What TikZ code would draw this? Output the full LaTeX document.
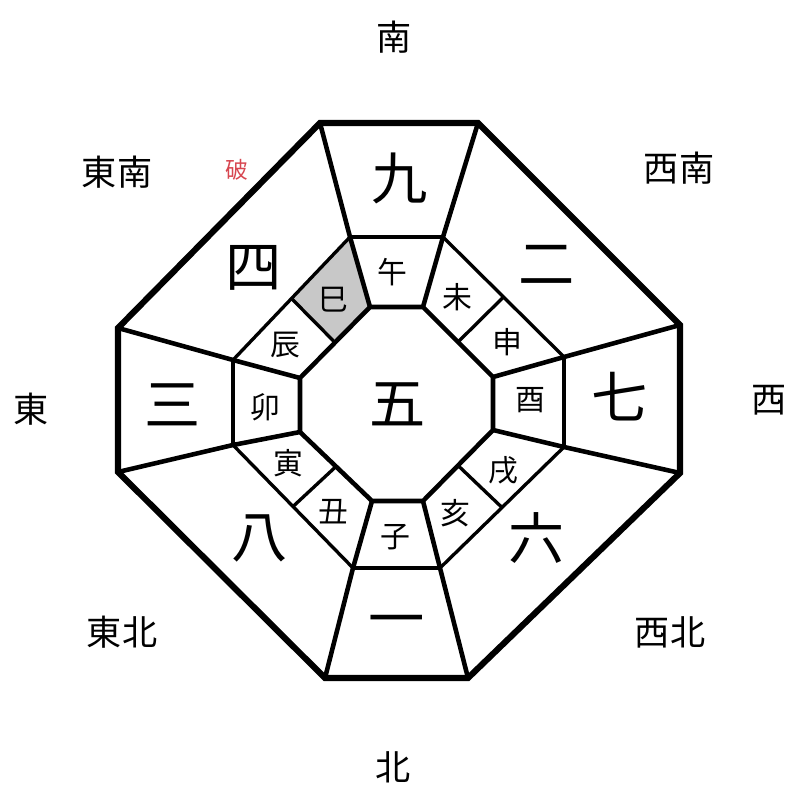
\documentclass[tikz,border=0pt]{standalone}
\usepackage{fontspec}
\newfontfamily\jpfont{Noto Sans CJK JP}
\usepackage{tikz}
\usetikzlibrary{calc, positioning}
\definecolor{shadegray}{RGB}{200,200,200}
\definecolor{hared}{RGB}{215,70,80}
\tikzset{
	rim/.style={line width=3.5pt},
	wall/.style={line width=2.6pt},
	seam/.style={line width=1.9pt},
	bignum/.style={font=\jpfont\fontsize{32}{32}\selectfont},
	branch/.style={font=\jpfont\fontsize{17}{17}\selectfont},
	dirlabel/.style={font=\jpfont\fontsize{20}{20}\selectfont},
}

\begin{document}
\begin{tikzpicture}[x=0.02cm, y=-0.02cm]
			\useasboundingbox (0,0) rectangle (800,800);
			% inner octagon
			\coordinate (i1) at (370,307); \coordinate (i2) at (423,307);
			\coordinate (i3) at (493,377); \coordinate (i4) at (493,430);
			\coordinate (i5) at (423,501); \coordinate (i6) at (372,501);
			\coordinate (i7) at (300,432); \coordinate (i8) at (300,378);
			% middle ring
			\coordinate (m1) at (350,237); \coordinate (m2) at (443,237);
			\coordinate (m3) at (564,357); \coordinate (m4) at (564,447);
			\coordinate (m5) at (440,568); \coordinate (m6) at (353,568);
			\coordinate (m7) at (233,445); \coordinate (m8) at (233,360);
			% outer octagon
			\coordinate (o1) at (320,123); \coordinate (o2) at (478,123);
			\coordinate (o3) at (680,325); \coordinate (o4) at (680,473);
			\coordinate (o5) at (468,678); \coordinate (o6) at (325,678);
			\coordinate (o7) at (118,472); \coordinate (o8) at (118,328);
			% shaded cell
			\fill[shadegray] (i1) -- (m1) -- ($(m8)!0.5!(m1)$) -- ($(i8)!0.5!(i1)$) -- cycle;
			% lines
			\foreach \k in {1,...,8} {
				\draw[wall] (o\k) -- (m\k) -- (i\k);
			}
			\draw[wall] (i1) -- (i2) -- (i3) -- (i4) -- (i5) -- (i6) -- (i7) -- (i8) -- cycle;
			\draw[wall] (m1) -- (m2) (m3) -- (m4) (m5) -- (m6) (m7) -- (m8);
			\draw[seam] (m2) -- (m3) (m4) -- (m5) (m6) -- (m7) (m8) -- (m1);
			\foreach \a/\b in {2/3, 4/5, 6/7, 8/1} {
				\draw[seam] ($(i\a)!0.5!(i\b)$) -- ($(m\a)!0.5!(m\b)$);
			}
			\draw[rim] (o1) -- (o2) -- (o3) -- (o4) -- (o5) -- (o6) -- (o7) -- (o8) -- cycle;
			% numbers
			\node[bignum] (n5) at (398,404) {五};
			\node[bignum] (n9) at (400,178) {九};
			\node[bignum] (n2) at (547,265) {二};
			\node[bignum] (n7) at (620,397) {七};
			\node[bignum] (n6) at (537,538) {六};
			\node[bignum] (n1) at (397,627) {一};
			\node[bignum] (n8) at (260,538) {八};
			\node[bignum] (n3) at (173,405) {三};
			\node[bignum] (n4) at (254,268) {四};
			% branches
			\node[branch] (uma) at (392,272) {午};
			\node[branch] (hitsuji) at (457,297) {未};
			\node[branch] (saru) at (507,342) {申};
			\node[branch] (tori) at (530,400) {酉};
			\node[branch] (inu) at (503,470) {戌};
			\node[branch] (i) at (455,513) {亥};
			\node[branch] (ne) at (395,537) {子};
			\node[branch] (ushi) at (333,512) {丑};
			\node[branch] (tora) at (288,463) {寅};
			\node[branch] (u) at (265,407) {卯};
			\node[branch] (tatsu) at (285,345) {辰};
			\node[branch] (mi) at (333,300) {巳};
			% directions
			\node[dirlabel] (s) at (394,37) {南};
			\node[dirlabel] (sw) at (679,168) {西南};
			\node[dirlabel] (w) at (769,400) {西};
			\node[dirlabel] (nw) at (670,632) {西北};
			\node[dirlabel] (n) at (393,767) {北};
			\node[dirlabel] (ne) at (122,632) {東北};
			\node[dirlabel] (e) at (31,409) {東};
			\node[dirlabel] (se) at (117,172) {東南};
			\node[font=\jpfont\fontsize{13}{13}\selectfont, text=hared] (ha) at (237,170) {破};
		\end{tikzpicture}
\end{document}
